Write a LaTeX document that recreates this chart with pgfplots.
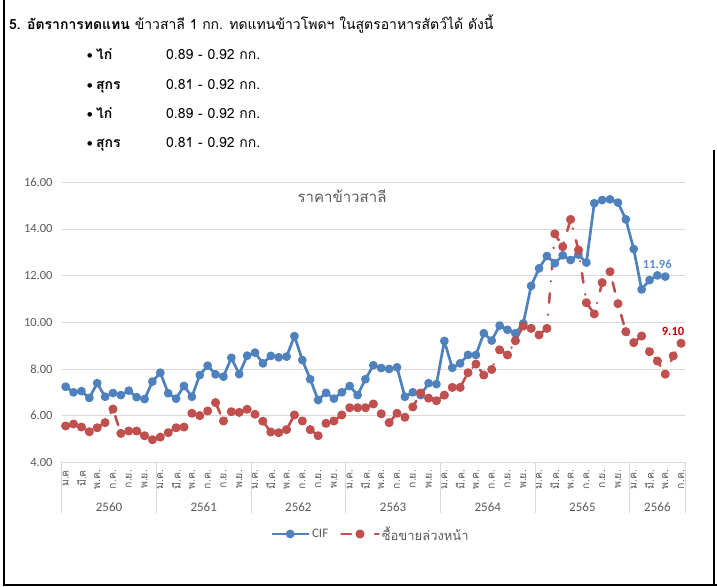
\documentclass[border=0pt]{standalone}
\usepackage{fontspec}
\setmainfont{Carlito}
\newfontfamily\thai[Script=Thai]{Loma}
\usepackage{pgfplots}
\usepackage{pgfplotstable}
\pgfplotsset{compat=1.18}
\definecolor{cifblue}{HTML}{4F81BD}
\definecolor{fwdred}{HTML}{C0504D}
\definecolor{gridgray}{HTML}{D9D9D9}
\definecolor{tickgray}{HTML}{595959}
\definecolor{lblblue}{HTML}{558ED5}
\definecolor{lblred}{HTML}{C00000}

\pgfplotstableread{
x y
0 7.24
1 7.00
2 7.05
3 6.76
4 7.39
5 6.81
6 6.97
7 6.88
8 7.07
9 6.79
10 6.71
11 7.46
12 7.84
13 6.96
14 6.73
15 7.27
16 6.81
17 7.74
18 8.14
19 7.77
20 7.67
21 8.48
22 7.78
23 8.57
24 8.70
25 8.24
26 8.56
27 8.50
28 8.53
29 9.41
30 8.38
31 7.56
32 6.67
33 6.98
34 6.73
35 7.00
36 7.27
37 6.88
38 7.56
39 8.16
40 8.04
41 8.00
42 8.07
43 6.81
44 7.00
45 6.88
46 7.39
47 7.35
48 9.20
49 8.05
50 8.24
51 8.60
52 8.60
53 9.53
54 9.22
55 9.86
56 9.68
57 9.53
58 9.95
59 11.56
60 12.31
61 12.84
62 12.53
63 12.87
64 12.67
65 12.90
66 12.56
67 15.10
68 15.24
69 15.27
70 15.13
71 14.41
72 13.14
73 11.41
74 11.81
75 12.01
76 11.96
}\cif

\pgfplotstableread{
x y
0 5.56
1 5.64
2 5.51
3 5.31
4 5.48
5 5.70
6 6.28
7 5.24
8 5.34
9 5.34
10 5.14
11 4.97
12 5.08
13 5.27
14 5.48
15 5.51
16 6.10
17 6.00
18 6.20
19 6.56
20 5.77
21 6.17
22 6.14
23 6.27
24 6.06
25 5.76
26 5.30
27 5.27
28 5.40
29 6.03
30 5.77
31 5.40
32 5.14
33 5.67
34 5.77
35 6.03
36 6.34
37 6.34
38 6.34
39 6.50
40 6.08
41 5.70
42 6.10
43 5.93
44 6.37
45 6.97
46 6.75
47 6.64
48 6.88
49 7.21
50 7.21
51 7.84
52 8.21
53 7.74
54 7.98
55 8.82
56 8.60
57 9.21
58 9.84
59 9.74
60 9.46
61 9.74
62 13.79
63 13.24
64 14.41
65 13.10
66 10.84
67 10.36
68 11.70
69 12.17
70 10.80
71 9.60
72 9.13
73 9.41
74 8.74
75 8.34
76 7.78
77 8.56
78 9.10
}\fwd

\begin{document}
\begin{tikzpicture}
\useasboundingbox (0,0) rectangle (717pt,-586pt);
% frame
\draw[line width=2.5pt] (4pt,0pt) -- (4pt,-586pt);
\draw[line width=2pt] (4pt,-585pt) -- (717pt,-585pt);
\draw[line width=2pt] (714pt,-150pt) -- (714pt,-586pt);
% header text
\node[anchor=base west, inner sep=0pt] at (9pt,-29.5pt)
  {\thai\fontsize{14}{14}\selectfont\textbf{5. อัตราการทดแทน} ข้าวสาลี 1 กก. ทดแทนข้าวโพดฯ ในสูตรอาหารสัตว์ได้ ดังนี้};
\foreach \yy/\an/\val in {59.3/ไก่/0.89 - 0.92 กก.,89.3/สุกร/0.81 - 0.92 กก.,118.3/ไก่/0.89 - 0.92 กก.,147.7/สุกร/0.81 - 0.92 กก.}{
  \node[anchor=base west, inner sep=0pt] at (86.5pt,-\yy pt) {\fontsize{13}{13}\selectfont •};
  \node[anchor=base west, inner sep=0pt] at (96pt,-\yy pt) {\thai\fontsize{14}{14}\selectfont\textbf{\an}};
  \node[anchor=base west, inner sep=0pt] at (166pt,-\yy pt) {\thai\fontsize{14}{14}\selectfont \val};
}
% chart title
\node[text=tickgray, font=\thai\fontsize{15}{15}\selectfont] at (342pt,-196pt) {ราคาข้าวสาลี};
% year labels
\foreach \xc/\yr in {109.0/2560,203.7/2561,298.4/2562,393.1/2563,487.8/2564,582.4/2565,657.4/2566}{
  \node[text=tickgray, font=\fontsize{13}{13}\selectfont] at (\xc pt,-507pt) {\yr};
}
\begin{axis}[
  at={(61.7pt,-462.3pt)}, anchor=south west,
  scale only axis, width=623.3pt, height=280pt,
  xmin=-0.5, xmax=78.5, ymin=4, ymax=16,
  ytick={4,6,...,16},
  xtick={0,2,...,78},
  xticklabels={ม.ค,มี.ค,พ.ค.,ก.ค.,ก.ย.,พ.ย.,
    ม.ค.,มี.ค.,พ.ค.,ก.ค.,ก.ย.,พ.ย.,
    ม.ค.,มี.ค.,พ.ค.,ก.ค.,ก.ย.,พ.ย.,
    ม.ค.,มี.ค.,พ.ค.,ก.ค.,ก.ย.,พ.ย.,
    ม.ค.,มี.ค.,พ.ค.,ก.ค.,ก.ย.,พ.ย.,
    ม.ค.,มี.ค.,พ.ค.,ก.ค.,ก.ย.,พ.ย.,
    ม.ค.,มี.ค.,พ.ค.,ก.ค.},
  minor xtick={-0.5,11.5,23.5,35.5,47.5,59.5,71.5,78.5},
  axis line style={draw=none},
  ymajorgrids, major grid style={draw=gridgray, line width=0.9pt},
  major tick length=0pt, minor tick length=51pt, tick align=outside,
  xtick pos=left, ytick pos=left,
  minor tick style={draw=gridgray, line width=0.9pt},
  xticklabel style={rotate=90, anchor=east, inner sep=0pt, text=tickgray,
    font=\thai\fontsize{10.5}{10.5}\selectfont},
  xticklabel shift=7.5pt,
  yticklabel style={inner sep=0pt, anchor=east, xshift=-9pt, text=tickgray,
    font=\fontsize{12.5}{12.5}\selectfont},
  /pgf/number format/assume math mode=true,
  yticklabel={\pgfmathprintnumber[fixed,fixed zerofill,precision=2]{\tick}},
  clip=false,
  legend style={draw=none, fill=none, at={(0.4954,-0.256)}, anchor=center,
    font=\fontsize{13}{13}\selectfont, text=tickgray,
    /tikz/every even column/.append style={column sep=10pt}},
  legend columns=2,
  legend image code/.code={\draw[mark repeat=2,mark phase=2,#1] plot coordinates {(0pt,0pt) (18.5pt,0pt) (37pt,0pt)};},
]
\addplot[cifblue, line width=2.7pt, line join=round, mark=*, mark size=3pt,
  mark options={solid, fill=cifblue, draw=cifblue}] table[x=x,y=y] {\cif};
\addlegendentry{CIF}
\addplot[fwdred, line width=2.6pt, line cap=round, line join=round,
  dash pattern=on 9.5pt off 12pt on 0pt off 12pt,
  mark=*, mark size=3.2pt, mark options={solid, fill=fwdred, draw=fwdred}] table[x=x,y=y] {\fwd};
\addlegendentry{\thai ซื้อขายล่วงหน้า}
\node[text=lblblue, font=\bfseries\fontsize{12.5}{12.5}\selectfont] at (axis cs:76,11.96) [xshift=-8pt, yshift=12pt] {11.96};
\node[text=lblred, font=\bfseries\fontsize{12.5}{12.5}\selectfont] at (axis cs:78,9.10) [xshift=-8pt, yshift=12pt] {9.10};
\end{axis}
\end{tikzpicture}
\end{document}
